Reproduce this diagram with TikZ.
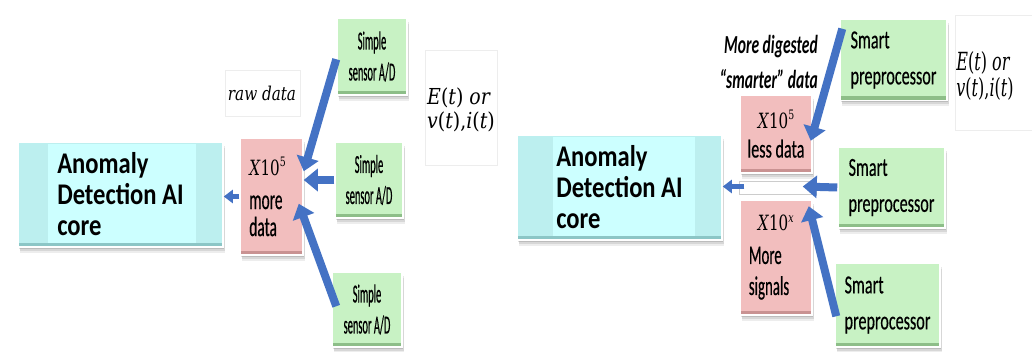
\documentclass[tikz,border=0pt]{standalone}
\usepackage{fontspec}
\usepackage{graphicx}
\usetikzlibrary{arrows.meta,shadows,calc}

% Condensed Calibri-metric faces for the different box texts
\newfontfamily\corefont[FakeStretch=0.82]{Carlito}
\newfontfamily\simplefont[FakeStretch=0.4,FakeBold=0.5]{Carlito}
\newfontfamily\smartfont[FakeStretch=0.62,FakeBold=0.4]{Carlito}
\newfontfamily\pinkfont[FakeStretch=0.55,FakeBold=0.4]{Carlito}
\newfontfamily\lessfont[FakeStretch=0.62,FakeBold=0.4]{Carlito}
\newfontfamily\notefont[FakeStretch=0.6]{Carlito}
% Serif face for the formula-like labels
\newfontfamily\formfont{DejaVu Serif}
\newcommand{\narrowed}[2]{\scalebox{#1}[1]{#2}}
\newcommand{\tenpow}[1]{\textit{X}10\raisebox{0.42em}{\fontsize{0.62em}{0.62em}\selectfont #1}}

\definecolor{cyanOuter}{HTML}{BCEFEF}
\definecolor{cyanInner}{HTML}{CCFFFF}
\definecolor{cyanBottom}{HTML}{8CC6C6}
\definecolor{pinkFill}{HTML}{F2BEBE}
\definecolor{pinkBottom}{HTML}{C99292}
\definecolor{greenFill}{HTML}{C8F2C4}
\definecolor{greenBottom}{HTML}{8DBE88}
\definecolor{arrowBlue}{HTML}{4472C4}

\tikzset{
  box/.style={draw=white, line width=1.5pt, inner sep=0pt,
    drop shadow={shadow xshift=2pt, shadow yshift=-6pt, opacity=0.07, fill=black},
    drop shadow={shadow xshift=1.5pt, shadow yshift=-4pt, opacity=0.09, fill=black},
    drop shadow={shadow xshift=1pt, shadow yshift=-2pt, opacity=0.12, fill=black}},
  band/.style={path picture={\fill[#1] (path picture bounding box.south west)
      rectangle ($(path picture bounding box.south east)+(0,-4)$);}},
  corebox/.style={box, fill=cyanOuter, minimum width=205pt, minimum height=105pt,
    align=left, font=\corefont\bfseries\fontsize{30}{31}\selectfont,
    path picture={
      \fill[cyanInner] ($(path picture bounding box.south west)+(#1,0)$)
        rectangle ($(path picture bounding box.north east)+(-27,2)$);
      \fill[cyanBottom] (path picture bounding box.south west)
        rectangle ($(path picture bounding box.south east)+(0,-4)$);}},
  pinkbox/.style={box, fill=pinkFill, band=pinkBottom},
  simplebox/.style={box, fill=greenFill, band=greenBottom, align=center,
    font=\simplefont\fontsize{26}{31}\selectfont},
  smartbox/.style={box, fill=greenFill, band=greenBottom, align=left,
    minimum width=107pt, minimum height=81pt,
    font=\smartfont\fontsize{26}{36}\selectfont},
  fat/.style={draw=arrowBlue, line width=8pt, -{Triangle[length=14pt,width=22pt]}},
  thin/.style={draw=arrowBlue, line width=5pt, -{Triangle[length=9pt,width=13pt]}},
  faint/.style={draw=black!7, line width=0.6pt},
  formnote/.style={align=left, inner sep=0pt}
}

\begin{document}
\begin{tikzpicture}[x=1pt,y=-1pt]
\useasboundingbox (0,0) rectangle (1032,352);
\fill[white] (0,0) rectangle (1032,352);

% ---------------- raw-data chain ----------------
\node[corebox=30pt] (core1) at (120.5,194.5) {Anomaly\\Detection AI\\core};
\node[pinkbox, minimum width=63pt, minimum height=117pt, align=left,
      font=\pinkfont\fontsize{28}{30}\selectfont] (p1) at (271.5,196.5)
  {\narrowed{0.72}{\formfont\fontsize{21}{21}\selectfont\tenpow{5}}\hspace*{8pt}\\[4pt]more\\[-3pt]data};
\node[simplebox, minimum width=70pt, minimum height=77pt] (s1) at (372,56.5) {Simple\\sensor A/D};
\node[simplebox, minimum width=68pt, minimum height=76pt] (s2) at (369,180) {Simple\\sensor A/D};
\node[simplebox, minimum width=70pt, minimum height=75pt] (s3) at (367,309.5) {Simple\\sensor A/D};

\draw[faint] (225,70) rectangle (300,116);
\node[formnote] (raw) at (262,93)
  {\narrowed{0.8}{\formfont\itshape\fontsize{19}{19}\selectfont raw data}};
\draw[faint] (425,50) rectangle (497,165);
\node[formnote] (sig1) at (461,110)
  {\narrowed{0.86}{\formfont\fontsize{22}{28}\selectfont\textit{E}(\textit{t}) \textit{or}}\\[3pt]
   \narrowed{0.86}{\formfont\fontsize{22}{28}\selectfont\textit{v}(\textit{t}),\textit{i}(\textit{t})}};

\draw[fat] ($(s1.north west)+(0,42)$) -- ($(p1.north east)+(0,34)$);
\draw[fat] (s2.west) -- (p1.east |- s2.west);
\draw[fat] ($(s3.north west)+(5,35)$) -- ($(p1.south east)+(-5,-52)$);
\draw[thin] (p1.west) -- (core1.east |- p1.west);

% ---------------- preprocessed chain ----------------
\node[corebox=36pt] (core2) at (619.5,187.5) {Anomaly\\Detection AI\\core};
\node[pinkbox, minimum width=72pt, minimum height=78pt, align=center,
      font=\lessfont\fontsize{26}{30}\selectfont] (p2) at (776,134)
  {\narrowed{0.72}{\formfont\fontsize{21}{21}\selectfont\tenpow{5}}\\[-1pt]less data};
\node[pinkbox, minimum width=72pt, minimum height=115pt, align=left,
      font=\pinkfont\fontsize{27}{33}\selectfont] (p3) at (776,257.5)
  {\hspace*{9pt}\narrowed{0.72}{\formfont\fontsize{21}{21}\selectfont\tenpow{\textit{x}}}\\[0pt]More\\[-2pt]signals\hspace*{14pt}};
\draw[draw=black!20, fill=white] ($(p2.south west)+(0,7)$) rectangle ($(p3.north east)+(3,-5)$);
\coordinate (gap) at ($(p2.south west)!0.5!(p3.north west)$);
\node[smartbox] (m1) at (893.5,60) {Smart\\preprocessor};
\node[smartbox] (m2) at (891.5,187.5) {Smart\\preprocessor};
\node[smartbox, minimum width=105pt, minimum height=84pt] (m3) at (887.5,305) {Smart\\preprocessor};

\node[align=right, anchor=east, inner sep=0pt,
      font=\notefont\bfseries\itshape\fontsize{26}{35}\selectfont] (dig) at (818,62)
  {More digested\\“smarter” data};
\draw[faint] (955,15) rectangle (1032,130);
\node[formnote] (sig2) at (985,76)
  {\narrowed{0.64}{\formfont\fontsize{25}{30}\selectfont\textit{E}(\textit{t}) \textit{or}}\\[2pt]
   \narrowed{0.64}{\formfont\fontsize{25}{30}\selectfont\textit{v}(\textit{t}),\textit{i}(\textit{t})}};

\draw[fat] ($(m1.north west)+(3,10)$) -- ($(p2.south east)+(-2,-33)$);
\draw[fat] (m2.west) -- ($(p2.south east)!0.5!(p3.north east)+(-10,0)$);
\draw[fat] ($(m3.north west)+(2,54)$) -- ($(p3.north east)+(-4,7)$);
\draw[thin] ($(gap)+(5,0)$) -- (core2.east |- gap);
\end{tikzpicture}
\end{document}
